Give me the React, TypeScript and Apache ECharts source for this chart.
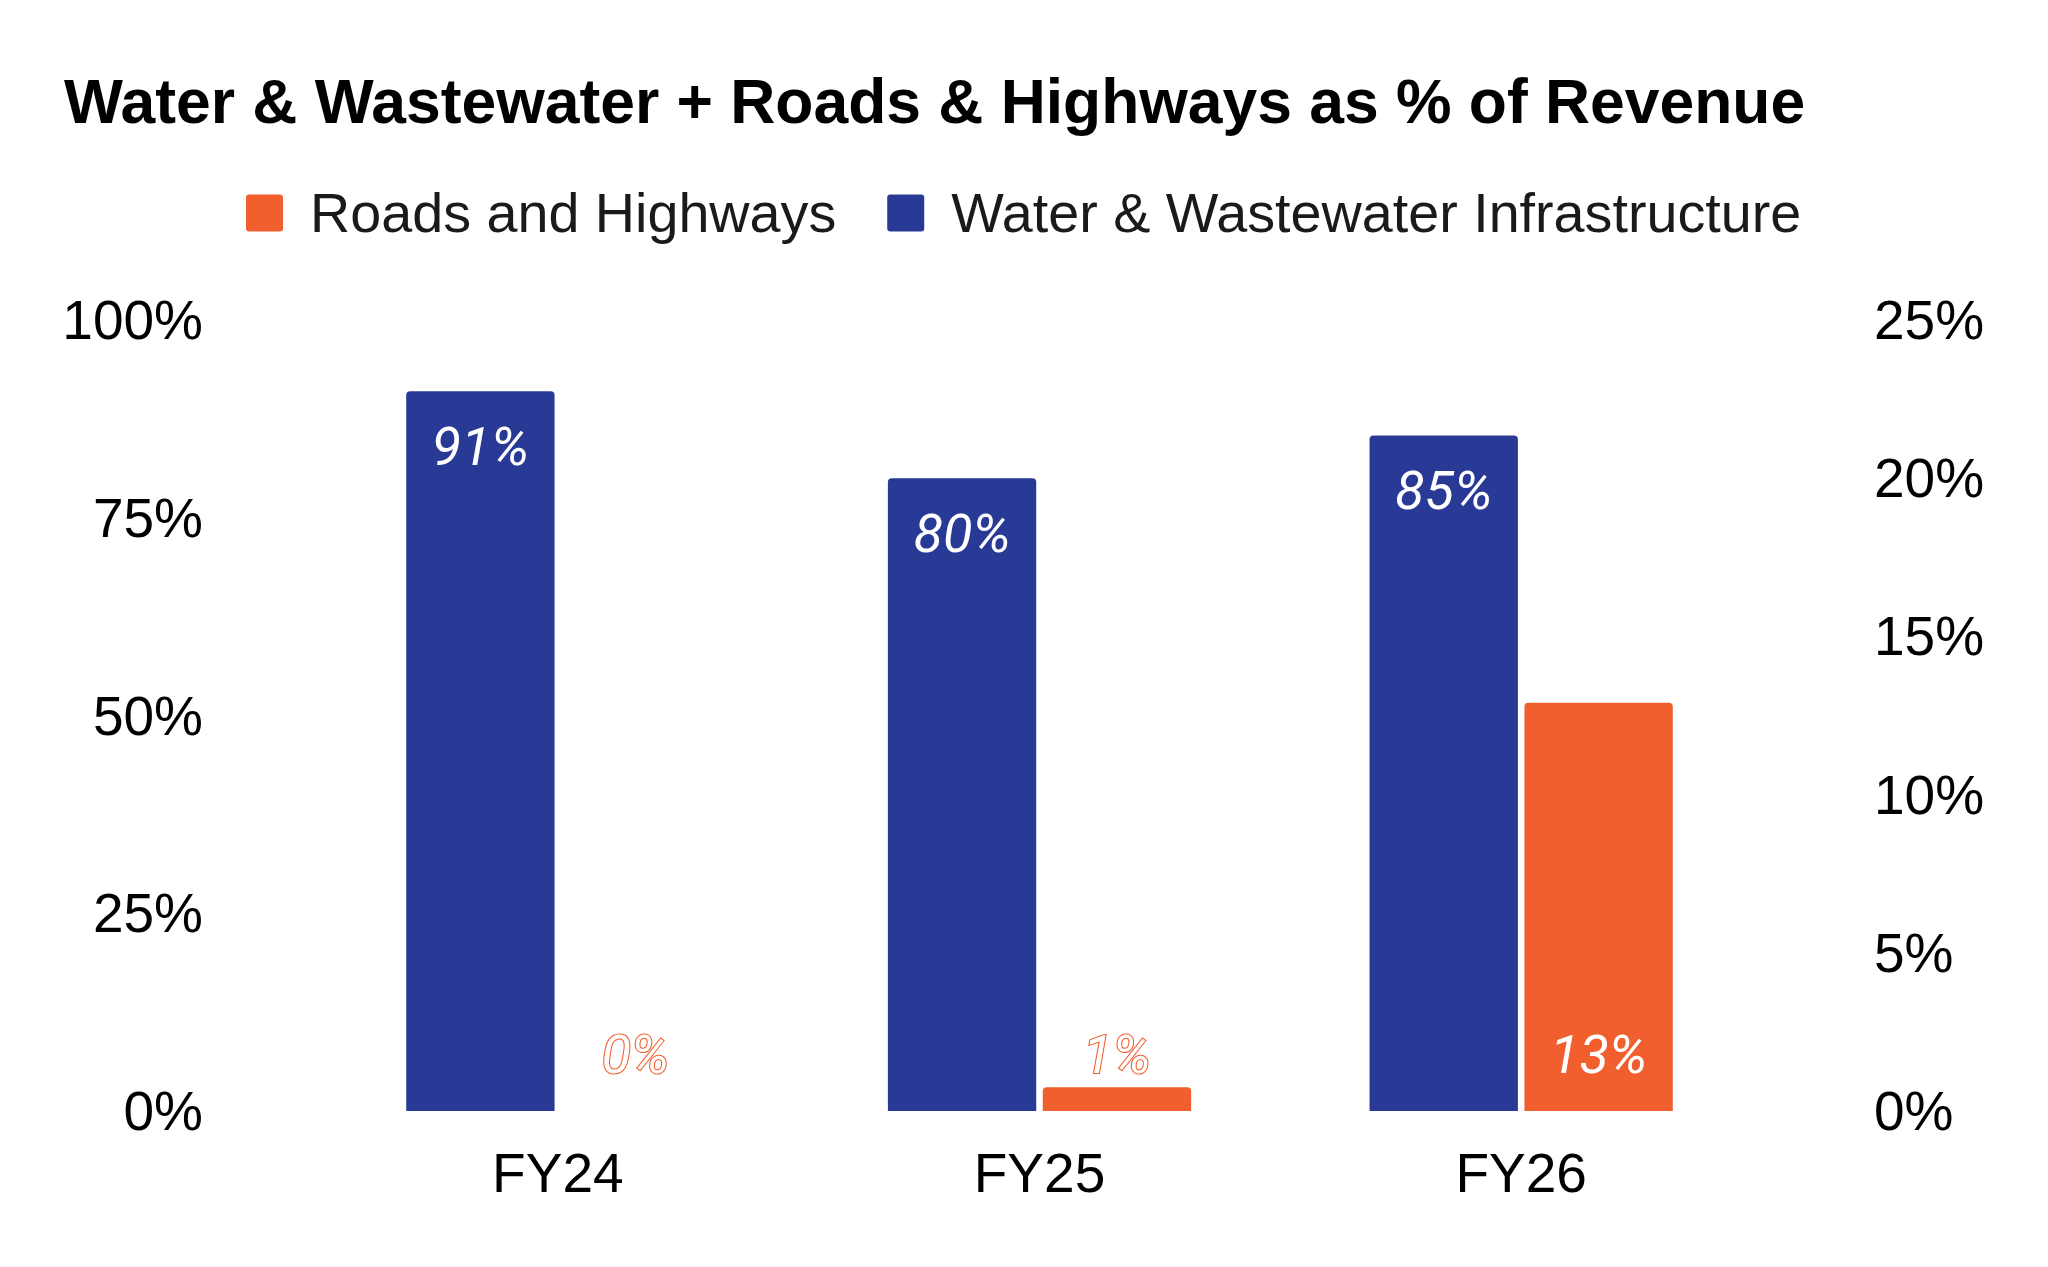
import React, { useEffect, useRef } from "react";
import * as echarts from "echarts";

const categories = ["FY24", "FY25", "FY26"];
const waterValues = [91, 80, 85.4];
const roadsValues = [0, 0.75, 12.9];
const leftTicks = [0, 25, 50, 75, 100];
const rightTicks = [0, 5, 10, 15, 20, 25];

const BLUE = "#283A96";
const ORANGE = "#F15F2E";
const ICON = "path://M3,0H34A3,3 0 0 1 37,3V34A3,3 0 0 1 34,37H3A3,3 0 0 1 0,34V3A3,3 0 0 1 3,0Z";

export default function App() {
  const ref = useRef<HTMLDivElement>(null);
  useEffect(() => {
    document.body.style.margin = "0";
    const chart = echarts.init(ref.current!, undefined, { renderer: "svg" });
    const axisFont = { fontFamily: "Liberation Sans, Arial, sans-serif", fontSize: 55, color: "#000" };
    chart.setOption({
      animation: false,
      backgroundColor: "#fff",
      title: {
        text: "Water & Wastewater + Roads & Highways as % of Revenue",
        left: 64,
        top: 70,
        padding: 0,
        textStyle: { fontFamily: "Liberation Sans, Arial, sans-serif", fontWeight: "bold", fontSize: 62.4, color: "#000" },
      },
      legend: {
        data: ["Roads and Highways", "Water & Wastewater Infrastructure"],
        left: 246,
        top: 185,
        padding: 0,
        itemWidth: 37,
        itemHeight: 37,
        itemGap: 51,
        icon: ICON,
        textStyle: {
          fontFamily: "Liberation Sans, Arial, sans-serif",
          fontSize: 55.7,
          color: "#1a1a1a",
          padding: [0, 0, 0, 22],
        },
      },
      grid: { left: 317, right: 286, top: 320, bottom: 156, containLabel: false },
      xAxis: {
        type: "category",
        data: categories,
        axisLine: { show: false },
        axisTick: { show: false },
        axisLabel: { ...axisFont, margin: 34 },
      },
      yAxis: [
        {
          type: "value",
          min: leftTicks[0],
          max: leftTicks[leftTicks.length - 1],
          interval: 25,
          splitLine: { show: false },
          axisLine: { show: false },
          axisTick: { show: false },
          axisLabel: { ...axisFont, margin: 114, formatter: (v: number) => v + "%" },
        },
        {
          type: "value",
          min: rightTicks[0],
          max: rightTicks[rightTicks.length - 1],
          interval: 5,
          position: "right",
          splitLine: { show: false },
          axisLine: { show: false },
          axisTick: { show: false },
          axisLabel: { ...axisFont, margin: 112, formatter: (v: number) => v + "%" },
        },
      ],
      series: [
        {
          name: "Water & Wastewater Infrastructure",
          type: "bar",
          yAxisIndex: 0,
          data: waterValues,
          barWidth: "30.8%",
          barGap: "4.4%",
          itemStyle: { color: BLUE, borderRadius: [4, 4, 0, 0] },
          label: {
            show: true,
            position: "insideTop",
            distance: 28,
            fontFamily: "Roboto, sans-serif",
            fontStyle: "italic",
            fontSize: 54,
            color: "#fff",
            formatter: (p: any) => Math.round(p.value) + "%",
          },
        },
        {
          name: "Roads and Highways",
          type: "bar",
          yAxisIndex: 1,
          data: roadsValues,
          barWidth: "30.8%",
          barGap: "4.4%",
          itemStyle: { color: ORANGE, borderRadius: [4, 4, 0, 0] },
          label: {
            show: true,
            position: "insideBottom",
            distance: 30,
            fontFamily: "Roboto, sans-serif",
            fontStyle: "italic",
            fontSize: 54,
            color: "#fff",
            textBorderColor: ORANGE,
            textBorderWidth: 2.2,
            formatter: (p: any) => Math.round(p.value) + "%",
          },
        },
      ],
    });
    return () => chart.dispose();
  }, []);
  return <div ref={ref} style={{ width: 2048, height: 1267 }} />;
}
